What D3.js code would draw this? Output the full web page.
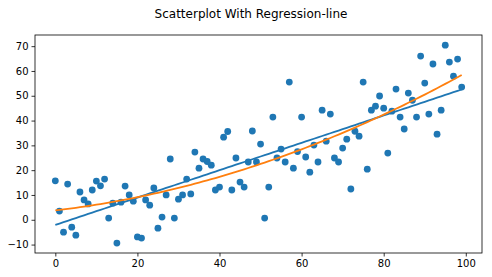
<!DOCTYPE html>
<html><head><meta charset="utf-8">
<script src="https://cdn.jsdelivr.net/npm/d3@7"></script>
<style>body{margin:0;background:#fff}svg{display:block}</style>
</head><body>
<svg id="c" width="492" height="277"></svg>
<script>
const yValues = [15.7,3.5,-5,14.4,-3,-6.2,11.2,8,6.4,12,
15.6,13.7,16.4,0.7,6.7,-9.4,7.1,13.6,10,7.5,
-6.9,-7.4,8,5.9,12.8,-3.4,1.1,10,24.5,0.7,
8.3,10,16.4,10.4,27.3,20.8,24.5,23.5,22,12,
13.2,33.3,35.6,12,24.9,15.2,13.2,23.3,35.8,23.3,
30.5,0.7,13.2,41.4,24.9,28.5,23.3,55.5,20.8,27.5,
41.4,25.3,19.2,30.1,23.3,44.2,31.7,42.6,24.9,23.3,
28.9,32.5,12.4,35.7,33.7,55.5,20.4,44.2,45.8,49.9,
45,26.9,43.8,52.7,41.4,36.6,51.1,48.2,41.4,66,
55.1,42.6,62.8,34.5,44.2,70.4,63.6,57.9,64.8,53.5];
const xValues = yValues.map((d,i)=>i);
const xTicks = [0,20,40,60,80,100];
const yTicks = [-10,0,10,20,30,40,50,60,70];
const title = "Scatterplot With Regression-line";

const svg = d3.select("#c");
const L=35, R=482, T=35, B=253;
const x = d3.scaleLinear().domain([-4.95,103.95]).range([L,R]);
const y = d3.scaleLinear().domain([-13.4,74.5]).range([B,T]);

// least-squares polynomial fit
function polyfit(xs, ys, deg){
  const n=deg+1;
  const A=Array.from({length:n},()=>Array(n+1).fill(0));
  for(let k=0;k<xs.length;k++){
    for(let i=0;i<n;i++){
      for(let j=0;j<n;j++) A[i][j]+=Math.pow(xs[k],i+j);
      A[i][n]+=ys[k]*Math.pow(xs[k],i);
    }
  }
  for(let i=0;i<n;i++){
    let p=i; for(let r=i+1;r<n;r++) if(Math.abs(A[r][i])>Math.abs(A[p][i])) p=r;
    [A[i],A[p]]=[A[p],A[i]];
    for(let r=0;r<n;r++){ if(r===i) continue; const f=A[r][i]/A[i][i];
      for(let c=i;c<=n;c++) A[r][c]-=f*A[i][c]; }
  }
  return A.map((row,i)=>row[n]/row[i]);
}
const lin = polyfit(xValues,yValues,1);
const quad = polyfit(xValues,yValues,2);
const ev = (c,v)=>c.reduce((s,a,i)=>s+a*Math.pow(v,i),0);

const font = "DejaVu Sans, sans-serif";
svg.append("text").attr("x",251).attr("y",18).attr("text-anchor","middle")
  .attr("font-family",font).attr("font-size",12).attr("fill","#000").text(title);

const g = svg.append("g");
g.selectAll("circle").data(xValues).enter().append("circle")
  .attr("cx",d=>x(d)).attr("cy",(d,i)=>y(yValues[i])).attr("r",3.4).attr("fill","#1f77b4");

const line = d3.line().x(d=>x(d[0])).y(d=>y(d[1]));
svg.append("path").datum(xValues.map(v=>[v,ev(lin,v)])).attr("d",line)
  .attr("fill","none").attr("stroke","#1f77b4").attr("stroke-width",1.8);
svg.append("path").datum(xValues.map(v=>[v,ev(quad,v)])).attr("d",line)
  .attr("fill","none").attr("stroke","#ff7f0e").attr("stroke-width",1.8);

const xa = svg.append("g").attr("transform",`translate(0,${B})`)
  .call(d3.axisBottom(x).tickValues(xTicks).tickSize(3.5).tickPadding(3).tickFormat(d3.format("d")));
const ya = svg.append("g").attr("transform",`translate(${L},0)`)
  .call(d3.axisLeft(y).tickValues(yTicks).tickSize(3.5).tickPadding(3).tickFormat(d=>d<0?"\u2212"+Math.abs(d):d));
[xa,ya].forEach(a=>{a.select(".domain").remove();
  a.selectAll("text").attr("font-family",font).attr("font-size",10).attr("fill","#000");
  a.selectAll("line").attr("stroke","#000").attr("stroke-width",0.8);});
svg.append("rect").attr("x",L).attr("y",T).attr("width",R-L).attr("height",B-T)
  .attr("fill","none").attr("stroke","#000").attr("stroke-width",0.8);
</script>
</body></html>
